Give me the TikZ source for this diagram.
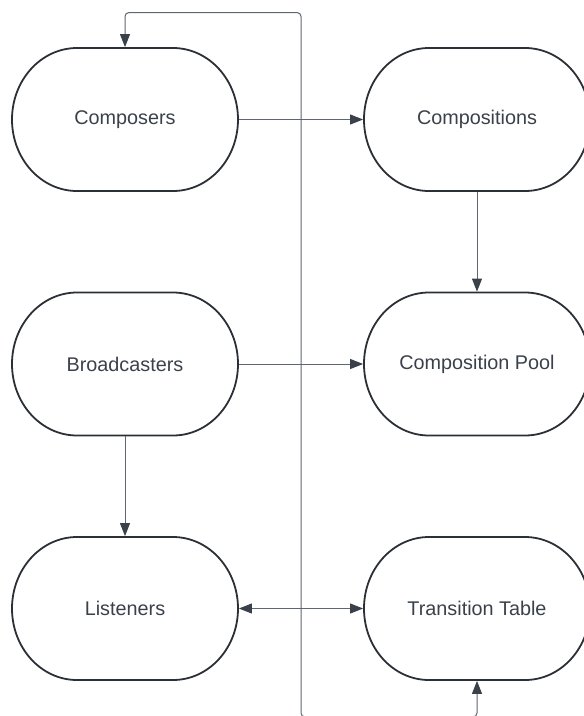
\documentclass[tikz,border=0pt]{standalone}
\usepackage{fontspec}
\setmainfont{Liberation Sans}
\usetikzlibrary{arrows.meta}
\definecolor{boxline}{HTML}{2B2F36}
\definecolor{txt}{HTML}{3A414A}
\definecolor{connline}{HTML}{5F6670}
\definecolor{tipcol}{HTML}{3A414A}
\tikzset{
  stadium/.style={line width=1.8pt, outer sep=0.9pt, text=txt,
    minimum width=226pt, minimum height=143pt,
    font=\fontsize{19.8}{24}\selectfont},
  outline/.style={draw=boxline, line width=1.8pt, line join=round},
  conn/.style={draw=connline, line width=1pt,
    -{Triangle[length=13pt,width=10pt,fill=tipcol,color=tipcol]}},
  conn2/.style={draw=connline, line width=1pt,
    {Triangle[length=13pt,width=10pt,fill=tipcol,color=tipcol]}-{Triangle[length=13pt,width=10pt,fill=tipcol,color=tipcol]}}
}
\begin{document}
\begin{tikzpicture}[x=1pt,y=-1pt]
\useasboundingbox (0,0) rectangle (584,716);
\node[stadium] (composers) at (125,119.5) {Composers};
\node[stadium] (compositions) at (477,119.5) {Compositions};
\node[stadium] (broadcasters) at (125,364) {Broadcasters};
\node[stadium] (pool) at (477,364) {Composition Pool};
\node[stadium] (listeners) at (125,608.5) {Listeners};
\node[stadium] (table) at (477,608.5) {Transition Table};
\foreach \n in {composers,compositions,broadcasters,pool,listeners,table}
  \draw[outline] ([shift={(-48pt,71.5pt)}]\n.center) -- ++(96pt,0pt)
    arc[start angle=90,end angle=-90,x radius=65pt,y radius=71.5pt]
    -- ++(-96pt,0pt)
    arc[start angle=270,end angle=90,x radius=65pt,y radius=71.5pt] -- cycle;
\coordinate (jt) at (301,12.5);
\coordinate (jb) at (301,717);
\draw[conn] (composers) -- (compositions);
\draw[conn] (compositions) -- (pool);
\draw[conn] (broadcasters) -- (pool);
\draw[conn] (broadcasters) -- (listeners);
\draw[conn2] (listeners) -- (table);
\draw[conn2, rounded corners=4pt] (composers.north) |- (jt) -- (jb) -| (table.south);
\end{tikzpicture}
\end{document}
